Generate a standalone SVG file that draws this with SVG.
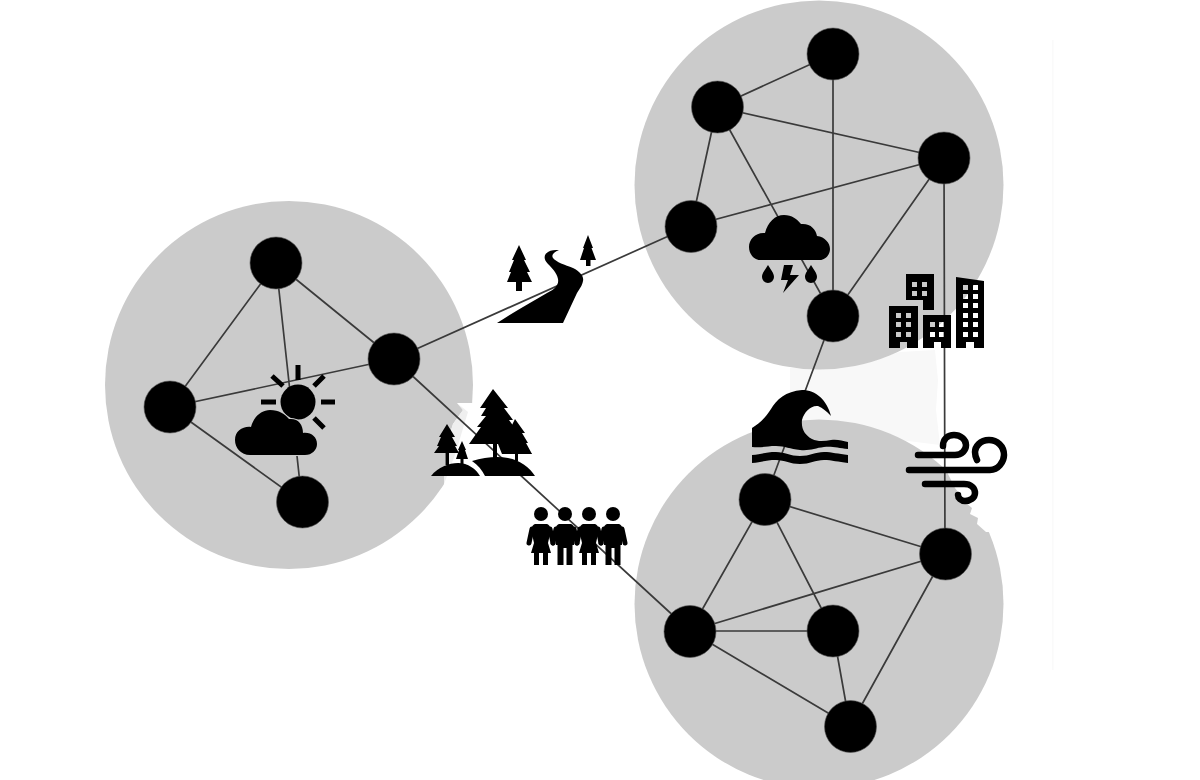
<svg xmlns="http://www.w3.org/2000/svg" width="1200" height="780" viewBox="0 0 1200 780">
<style>
.blob{fill:#cbcbcb}
.faint{fill:#f8f8f8}
.edge{stroke:#3a3a3a;stroke-width:1.7;fill:none}
.n{fill:#000;stroke:#555;stroke-width:.6}
.ic{fill:#000}
.st{stroke:#000;fill:none;stroke-linecap:round}
.tick{stroke:#000;fill:none;stroke-width:5}
.limb{stroke:#000;fill:none;stroke-width:5;stroke-linecap:round}
</style>
<defs>
<g id="woman"><circle class="ic" cx="0" cy="-37" r="7"/><path class="ic" d="M-6-27H6C9-26 10-23 9-17L7-8L10 2H7V14H2V2H-2V14H-7V2H-10L-7-8L-9-17C-10-23-9-26-6-27Z"/><path class="limb" d="M-9-22L-12-8M9-22L12-8"/></g>
<g id="man"><circle class="ic" cx="0" cy="-37" r="7"/><path class="ic" d="M-6-27H6C9-26 10-23 9-17V-6H7.500V14H1.500V-3H-1.500V14H-7.500V-6H-9V-17C-10-23-9-26-6-27Z"/><path class="limb" d="M-9-22L-12-8M9-22L12-8"/></g>
</defs>
<rect width="1200" height="780" fill="#fff"/>
<g id="background">
<rect x="1052" y="40" width="1.500" height="630" fill="#fafafa"/>
<path class="faint" d="M790 368L850 366L900 352L935 350L938 380L936 410L940 445L900 440L819 422L790 428Z"/>
<circle class="blob" cx="289" cy="385" r="184"/>
<path fill="#fff" d="M474 403H457L463 410L453 424L446 446L444 484H480V403Z"/>
<path fill="#efefef" d="M457 403L463 410L453 424L446 446L444 484L456 452L464 425L468 412Z"/>
<circle class="blob" cx="819" cy="185" r="184.500"/>
<circle class="blob" cx="819" cy="604" r="184.500"/>
<path fill="#fff" d="M945 468L955 488L966 503L972 508L970 514L978 518L977 524L986 532L1006 532V468Z"/>
</g>
<g id="connectors" class="edge">
<path d="M276 263L170 407M276 263L394 359M276 263L302 502M170 407L394 359M170 407L302 502"/>
<path d="M394 359L691 226M394 359L690 631"/>
<path d="M833 54L717 107M833 54V316M717 107L944 158M717 107L691 226M717 107L833 316M691 226L944 158M944 158L833 316"/>
<path d="M833 316L765 499M944 158L945 554"/>
<path d="M765 499L945 554M765 499L690 631M765 499L833 631M945 554L690 631M945 554L850 726M690 631L833 631M690 631L850 726M833 631L850 726"/>
</g>
<g id="n1"><circle class="n" cx="276" cy="263" r="26"/></g>
<g id="n2"><circle class="n" cx="170" cy="407" r="26"/></g>
<g id="n3"><circle class="n" cx="394" cy="359" r="26"/></g>
<g id="n4"><circle class="n" cx="302.500" cy="502" r="26"/></g>
<g id="n5"><circle class="n" cx="833" cy="54" r="26"/></g>
<g id="n6"><circle class="n" cx="717.500" cy="107" r="26"/></g>
<g id="n7"><circle class="n" cx="944" cy="158" r="26"/></g>
<g id="n8"><circle class="n" cx="691" cy="226.500" r="26"/></g>
<g id="n9"><circle class="n" cx="833" cy="316" r="26"/></g>
<g id="n10"><circle class="n" cx="765" cy="499.500" r="26"/></g>
<g id="n11"><circle class="n" cx="945.500" cy="554" r="26"/></g>
<g id="n12"><circle class="n" cx="690" cy="631.500" r="26"/></g>
<g id="n13"><circle class="n" cx="833" cy="631" r="26"/></g>
<g id="n14"><circle class="n" cx="850.500" cy="726.500" r="26"/></g>
<g id="icon-sun-cloud">
<circle class="ic" cx="298" cy="402" r="17.500"/>
<path class="tick" d="M298 365V380M261 402H276M321 402H335M272 376L283 386M324 376L314 386M314 418L324 428"/>
<path class="ic" stroke="#cbcbcb" stroke-width="2" paint-order="stroke" d="M250 455C241 455 235 448 235 440C235 431 243 426 251 427C254 416 262 410 270 410C279 410 285 414 289 419C298 418 303 424 303 433C311 432 317 437 317 444C317 450 312 455 305 455Z"/>
</g>
<g id="icon-storm">
<path class="ic" d="M760 260C754 260 749 254 749 247C749 239 756 232 765 233C768 222 775 215 784 215C792 215 797 219 801 224C810 223 816 229 817 236C825 237 830 243 830 249C830 255 825 260 820 260Z"/>
<path class="ic" d="M768 265C771 270 774 273 774 277A6 6 0 0 1 762 277C762 273 765 270 768 265ZM811 265C814 270 817 273 817 277A6 6 0 0 1 805 277C805 273 808 270 811 265ZM784 265H793L790 275H799L783 293L788 280H781Z"/>
</g>
<g id="icon-river">
<path class="ic" d="M497 323C512 313 530 303 547 293C556 289 559 284 558 279C557 273 552 268 548 264C544 260 543 255 548 252C551 250 555 250 559 250C554 252 551 255 553 258C556 262 565 265 573 268C581 272 584 277 583 281C582 286 580 288 577 293L563 323Z"/>
<path class="ic" d="M519 245L526 260H524L530 272H527L532 282H522V291H516V282H507L511 272H509L514 260H512Z"/>
<path class="ic" d="M588 235L593 248H591.500L596 260H590.500V266H586V260H580L584 248H583Z"/>
</g>
<g id="icon-forest">
<path class="ic" d="M493 389L508 408H504L513 420H509L517 431L520 444L532 454H518V461H515V454H502L498 444H497V461H493V444H469L481 427H477L486 416H481L486 408H480Z"/>
<path class="ic" d="M515 419L525 433H522L528 443H526L532 454H502L507 443H505L511 433H508Z"/>
<path class="ic" d="M447 424L455 437H452L457 446H455L459 453H449V465H445.500V453H434L439 446H437L441 437H439Z"/>
<path class="ic" d="M462 441L466 450H465L468 459H463.500V465H460.500V459H456L459 450H458Z"/>
<path class="ic" d="M431 476C438 467 449 463 458 463C468 463 476 469 480 476Z"/>
<path class="ic" d="M472 461C485 457 498 456 508 458C520 460 530 468 535 476H485C482 470 478 465 472 461Z"/>
</g>
<g id="icon-people">
<use href="#woman" x="541" y="551"/>
<use href="#man" x="565" y="551"/>
<use href="#woman" x="589" y="551"/>
<use href="#man" x="613" y="551"/>
</g>
<g id="icon-wave">
<path class="ic" d="M752 428C760 423 766 417 771 409C776 400 786 391 802 390C816 390 827 400 831 416C826 411 823 408 818 406C811 405 804 412 802 420C801 429 805 435 812 439C818 442 825 441 831 440C838 439 842 441 848 442V449C838 448 832 446 824 447C815 448 810 451 800 450C790 449 785 446 776 446C766 446 762 448 752 447Z"/>
<path class="ic" d="M752 455C762 454 766 452 776 452C785 452 790 456 800 456C810 456 815 452 824 452C832 452 838 454 848 455V463C838 462 832 460 824 460C815 460 810 464 800 464C790 464 785 460 776 460C766 460 762 462 752 463Z"/>
</g>
<g id="icon-city">
<path class="ic" fill-rule="evenodd" d="M906 274H934V310H923V300H906ZM912 282V287H917V282ZM922 282V287H927V282ZM912 291V296H917V291ZM922 291V296H927V291Z"/>
<path class="ic" fill-rule="evenodd" d="M889 306H918V348H907V342H900V348H889ZM896 313V318H901V313ZM906 313V318H911V313ZM896 322V327H901V322ZM906 322V327H911V322ZM896 332V337H901V332ZM906 332V337H911V332Z"/>
<path class="ic" fill-rule="evenodd" d="M923 315H951V348H941V342H934V348H923ZM930 322V327H935V322ZM939 322V327H944V322ZM930 332V337H935V332ZM939 332V337H944V332Z"/>
<path class="ic" fill-rule="evenodd" d="M956 277L984 281V348H974V342H966V348H956ZM963 285V290H968V285ZM973 285V290H978V285ZM963 294V299H968V294ZM973 294V299H978V294ZM963 303V308H968V303ZM973 303V308H978V303ZM963 313V318H968V313ZM973 313V318H978V313ZM963 322V327H968V322ZM973 322V327H978V322ZM963 332V337H968V332ZM973 332V337H978V332Z"/>
</g>
<g id="icon-wind">
<path class="st" stroke-width="6.500" d="M918 455H955C962 455 966 450 966 445C966 439 960 435 954 435C948 435 943 439 943 446"/>
<path class="st" stroke-width="6.500" d="M909 470H990C998 470 1004 462 1004 455C1004 446 997 440 989 440C980 440 975 447 975 452C975 456 976 458 977 460"/>
<path class="st" stroke-width="6.500" d="M925 484H964C971 484 975 488 975 493C975 498 970 501 965 501C961 501 958 498 958 495"/>
</g>
</svg>
